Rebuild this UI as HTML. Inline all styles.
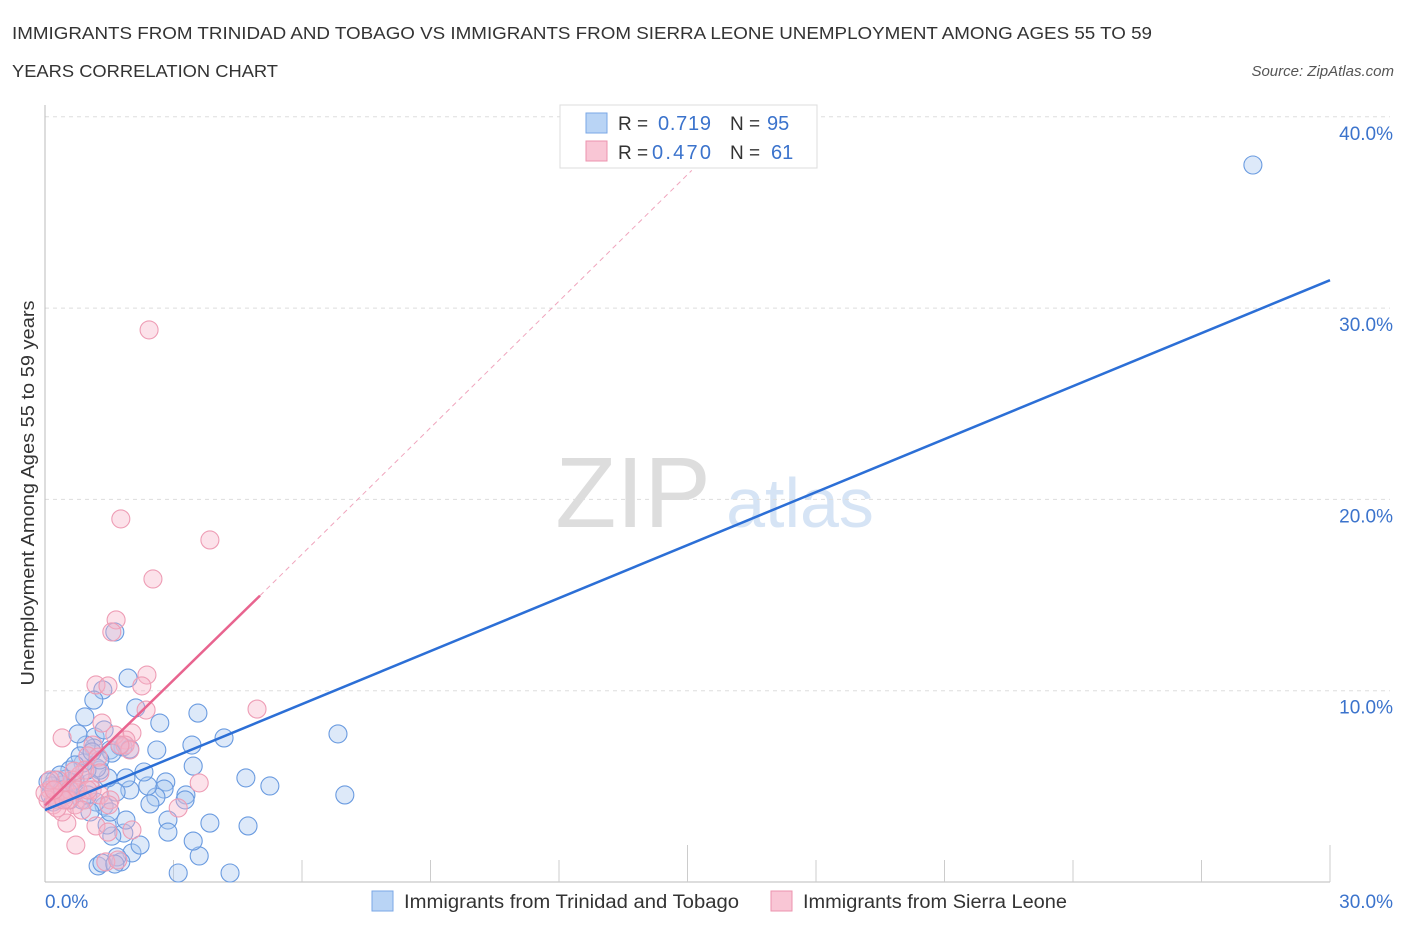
<!DOCTYPE html>
<html><head><meta charset="utf-8"><style>
body{margin:0;background:#fff;font-family:"Liberation Sans",sans-serif;}
svg text{font-family:"Liberation Sans",sans-serif;}
</style></head><body>
<svg id="chart" width="1406" height="930">
<text x="12" y="39" font-size="17.5" fill="#333" textLength="1140" lengthAdjust="spacingAndGlyphs">IMMIGRANTS FROM TRINIDAD AND TOBAGO VS IMMIGRANTS FROM SIERRA LEONE UNEMPLOYMENT AMONG AGES 55 TO 59</text>
<text x="12" y="77" font-size="17.5" fill="#333" textLength="266" lengthAdjust="spacingAndGlyphs">YEARS CORRELATION CHART</text>
<text x="1394" y="76" font-size="15" fill="#555" font-style="italic" text-anchor="end">Source: ZipAtlas.com</text>
<text x="633" y="527" font-size="100" fill="#ddd" font-family="Liberation Serif" text-anchor="middle">ZIP</text>
<text x="800" y="527" font-size="70" fill="#d6e4f5" text-anchor="middle">atlas</text>
<text transform="translate(34,493) rotate(-90)" font-size="18" fill="#333" text-anchor="middle" textLength="385" lengthAdjust="spacingAndGlyphs">Unemployment Among Ages 55 to 59 years</text>
<g id="grid"></g><g id="marks"></g>
<g>
<rect x="560" y="105" width="257" height="63" fill="#fff" stroke="#ddd"/>
<rect x="586" y="113" width="21" height="20" fill="#b9d4f5" stroke="#7aa7e6"/>
<rect x="586" y="141" width="21" height="20" fill="#f9c6d5" stroke="#ec93ae"/>
<text x="618" y="130" font-size="19" fill="#333">R =</text><text x="658" y="130" font-size="20" fill="#3b73cc" textLength="53">0.719</text>
<text x="730" y="130" font-size="19" fill="#333">N =</text><text x="767" y="130" font-size="20" fill="#3b73cc">95</text>
<text x="618" y="159" font-size="19" fill="#333">R =</text><text x="652" y="159" font-size="20" fill="#3b73cc" textLength="59">0.470</text>
<text x="730" y="159" font-size="19" fill="#333">N =</text><text x="771" y="159" font-size="20" fill="#3b73cc">61</text>
</g>
<g>
<rect x="372" y="891" width="21" height="20" fill="#b9d4f5" stroke="#7aa7e6"/>
<text x="404" y="908" font-size="19" fill="#333" textLength="335" lengthAdjust="spacingAndGlyphs">Immigrants from Trinidad and Tobago</text>
<rect x="771" y="891" width="21" height="20" fill="#f9c6d5" stroke="#ec93ae"/>
<text x="803" y="908" font-size="19" fill="#333" textLength="264" lengthAdjust="spacingAndGlyphs">Immigrants from Sierra Leone</text>
</g>
</svg>
<script>
const xTicks=[0,30];
const yTicks=[10,20,30,40];
const bluePx=[[1253,165],[338,734],[345,795],[270,786],[248,826],[230,873],[224,738],[246,778],[210,823],[199,856],[198,713],[193,841],[186,795],[192,745],[193,766],[185,800],[178,873],[168,820],[168,832],[166,782],[164,789],[160,723],[157,750],[156,797],[150,804],[148,786],[144,772],[136,708],[132,853],[130,790],[128,678],[126,778],[124,833],[123,747],[121,862],[117,857],[116,792],[115,632],[112,836],[110,750],[108,778],[107,825],[104,806],[103,690],[100,770],[97,768],[96,802],[95,737],[94,748],[90,783],[87,770],[86,745],[85,717],[83,763],[80,756],[78,734],[76,790],[75,780],[72,783],[70,770],[68,792],[66,779],[62,785],[60,775],[57,790],[55,780],[52,786],[50,795],[48,782],[120,746],[112,753],[100,760],[92,752],[88,795],[82,800],[65,795],[58,800],[53,802],[104,730],[94,700],[110,812],[126,820],[140,845],[98,866],[130,749],[75,765],[70,800],[62,790],[90,812],[102,863],[115,864]];
const pinkPx=[[149,330],[121,519],[210,540],[153,579],[116,620],[112,632],[147,675],[96,685],[108,686],[142,686],[257,709],[146,710],[102,723],[62,738],[132,733],[126,740],[115,735],[93,745],[125,745],[88,756],[98,757],[199,783],[178,808],[85,770],[80,775],[72,780],[65,790],[60,795],[55,798],[50,790],[48,800],[53,805],[58,780],[70,790],[75,805],[85,800],[92,790],[100,795],[110,800],[82,810],[67,823],[96,826],[108,832],[132,830],[76,845],[106,862],[118,860],[62,812],[57,808],[45,793],[50,780],[68,800],[78,790],[88,790],[74,771],[100,773],[130,750],[120,745],[64,800],[54,790],[109,805]];
const blueX=bluePx.map(p=>+((p[0]-45)/1285*30).toFixed(2));
const blueY=bluePx.map(p=>+((882-p[1])/191.3*10).toFixed(2));
const pinkX=pinkPx.map(p=>+((p[0]-45)/1285*30).toFixed(2));
const pinkY=pinkPx.map(p=>+((882-p[1])/191.3*10).toFixed(2));
const blueTrend=[[0,3.76],[30,31.46]];
const pinkTrend=[[0,4.0],[5.02,14.97]];
const pinkTrendExt=[[5.02,14.97],[15.1,37.2]];
const sx=v=>45+v/30*1285, sy=v=>882-v/10*191.3;
const NS='http://www.w3.org/2000/svg';
function mk(t,a,parent){const e=document.createElementNS(NS,t);for(const k in a)e.setAttribute(k,a[k]);parent.appendChild(e);return e;}
const g=document.getElementById('grid'), m=document.getElementById('marks');
yTicks.forEach(t=>{const l=mk('line',{x1:45,x2:1390,y1:sy(t),y2:sy(t),stroke:'#ddd','stroke-dasharray':'4,4'},g);


const tx=mk('text',{x:1393,y:sy(t)+23,'font-size':19,fill:'#3b73cc','text-anchor':'end'},g);tx.textContent=t.toFixed(1)+'%';

});
mk('line',{x1:45,x2:45,y1:105,y2:882,stroke:'#bbb'},g);
mk('line',{x1:45,x2:1330,y1:882,y2:882,stroke:'#bbb'},g);
for(let i=1;i<=10;i++){const x=45+i*128.5;mk('line',{x1:x,x2:x,y1:i%5==0?845:860,y2:882,stroke:'#ccc'},g);}
xTicks.forEach((t,i)=>{const tx=mk('text',{x:i?1393:45,y:908,'font-size':19,fill:'#3b73cc','text-anchor':i?'end':'start'},g);tx.textContent=t.toFixed(1)+'%';

});
blueX.forEach((x,i)=>{const c=mk('circle',{cx:sx(x),cy:sy(blueY[i]),r:9,fill:'rgba(170,200,240,0.4)',stroke:'#6a9be0','stroke-width':1.1},m);

});
pinkX.forEach((x,i)=>{const c=mk('circle',{cx:sx(x),cy:sy(pinkY[i]),r:9,fill:'rgba(246,180,200,0.38)',stroke:'#ee9db5','stroke-width':1.1},m);

});
let l=mk('line',{x1:sx(blueTrend[0][0]),y1:sy(blueTrend[0][1]),x2:sx(blueTrend[1][0]),y2:sy(blueTrend[1][1]),stroke:'#2c6fd6','stroke-width':2.5},m);


l=mk('line',{x1:sx(pinkTrend[0][0]),y1:sy(pinkTrend[0][1]),x2:sx(pinkTrend[1][0]),y2:sy(pinkTrend[1][1]),stroke:'#e8648f','stroke-width':2.5},m);


l=mk('line',{x1:sx(pinkTrendExt[0][0]),y1:sy(pinkTrendExt[0][1]),x2:sx(pinkTrendExt[1][0]),y2:sy(pinkTrendExt[1][1]),stroke:'#f0a5bd','stroke-width':1,'stroke-dasharray':'5,4'},m);


</script>
</body></html>
